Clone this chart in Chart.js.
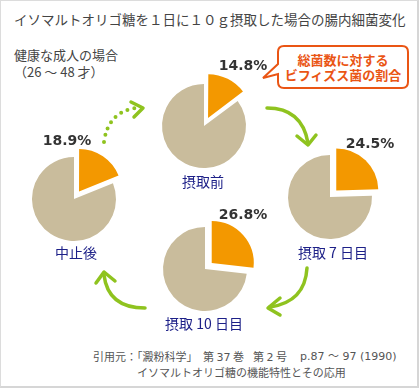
<!DOCTYPE html>
<html><head><meta charset="utf-8">
<script src="https://cdn.jsdelivr.net/npm/chart.js@4"></script>
<style>
html,body{margin:0;padding:0;background:#fff;}
#wrap{position:relative;width:420px;height:390px;overflow:hidden;font-family:"Noto Sans CJK JP","Noto Sans",sans-serif;}
#frame{position:absolute;left:0;top:0;width:416px;height:385px;border:1px solid #dcdcdc;border-right:2px solid #d6d6d6;border-bottom:2px solid #d6d6d6;}
.t{position:absolute;white-space:nowrap;line-height:1;}
.pct{font-family:"DejaVu Sans",sans-serif;font-weight:bold;font-size:14px;color:#333;transform:translate(-50%,-50%);}
.cat{font-size:14px;color:#1d2088;transform:translate(-50%,-50%);}
.ft{font-size:11px;color:#555;}
.lat{font-family:"DejaVu Sans","Noto Sans CJK JP",sans-serif;}
canvas.pie{position:absolute;}
svg{position:absolute;left:0;top:0;}
</style></head>
<body>
<div id="wrap">
<div id="frame"></div>
<svg width="420" height="390">
  <g fill="none" stroke="#8fc31f" stroke-width="3.5" stroke-linecap="round" stroke-linejoin="round">
    <path d="M104,142 Q108,112 136,108" stroke-dasharray="0 7" stroke-width="4"/>
    <path d="M131,102 L143,108 L134,117"/>
    <path d="M267,108 Q302,108 308,143"/>
    <path d="M297,136 L308,145 L316,135"/>
    <path d="M307,268 Q305,302 270,307"/>
    <path d="M280,298 L268,308 L280,315"/>
    <path d="M145,308 Q108,308 104,275"/>
    <path d="M96,283 L104,272 L115,281"/>
  </g>
  <path d="M284,46 H402 Q408,46 408,52 V82 Q408,88 402,88 H284 Q278,88 278,82 V74 L263,78 L278,64 V52 Q278,46 284,46 Z" fill="#fff" stroke="#ea5514" stroke-width="2"/>
</svg>
<div class="t" style="left:14px;top:13px;font-size:13.5px;color:#444;">イソマルトオリゴ糖を１日に１０ｇ摂取した場合の腸内細菌変化</div>
<div class="t" style="left:14px;top:46px;font-size:13px;color:#444;line-height:17px;">健康な成人の場合<br>（26 ～ 48 才）</div>
<div class="t" style="left:343px;top:67px;transform:translate(-50%,-50%);text-align:center;font-size:13px;font-weight:bold;color:#ea5514;line-height:15px;">総菌数に対する<br>ビフィズス菌の割合</div>
<div class="t ft" style="left:93px;top:351px;">引用元：「澱粉科学」</div>
<div class="t ft" style="left:203px;top:351px;">第 <span class="lat">37</span> 巻</div>
<div class="t ft" style="left:253px;top:351px;">第 <span class="lat">2</span> 号</div>
<div class="t ft lat" style="left:300px;top:351px;">p.87 ～ 97 (1990)</div>
<div class="t ft" style="left:137px;top:367px;">イソマルトオリゴ糖の機能特性とその応用</div>
<div id="labels"></div>
</div>
<script>
// Data
const categories = ['摂取前', '摂取 7 日目', '摂取 10 日目', '中止後'];
const bifidoShare = [14.8, 24.5, 26.8, 18.9];   // % of total bacteria
const otherShare = bifidoShare.map(v => +(100 - v).toFixed(1));
const shareLabels = ['14.8%', '24.5%', '26.8%', '18.9%'];

// Layout (positions only)
const pieCenters = [[204,126],[330,197],[205,269],[74,199]];
const pctPos = [[243,65],[370,143],[243,214],[67,140]];
const catPos = [[203,181],[333,252],[204,323],[76,252]];

const wrap = document.getElementById('wrap');
const labels = document.getElementById('labels');
const S = 130;
categories.forEach((name, i) => {
  const c = document.createElement('canvas');
  c.className = 'pie';
  c.width = S; c.height = S;
  c.style.left = (pieCenters[i][0] - S/2) + 'px';
  c.style.top = (pieCenters[i][1] - S/2) + 'px';
  wrap.insertBefore(c, labels);
  new Chart(c, {
    type: 'pie',
    data: {
      labels: ['ビフィズス菌', 'その他'],
      datasets: [{
        data: [bifidoShare[i], otherShare[i]],
        backgroundColor: ['#f39800', '#c9bc9c'],
        borderWidth: 0,
        offset: [36, 0]
      }]
    },
    options: {
      responsive: false,
      animation: false,
      radius: 42,
      layout: {padding: 0},
      plugins: {legend: {display: false}, tooltip: {enabled: false}}
    }
  });
  const p = document.createElement('div');
  p.className = 't pct';
  p.style.left = pctPos[i][0] + 'px'; p.style.top = pctPos[i][1] + 'px';
  p.textContent = shareLabels[i];
  labels.appendChild(p);
  const k = document.createElement('div');
  k.className = 't cat';
  k.style.left = catPos[i][0] + 'px'; k.style.top = catPos[i][1] + 'px';
  k.textContent = name;
  labels.appendChild(k);
});
</script>
</body></html>
